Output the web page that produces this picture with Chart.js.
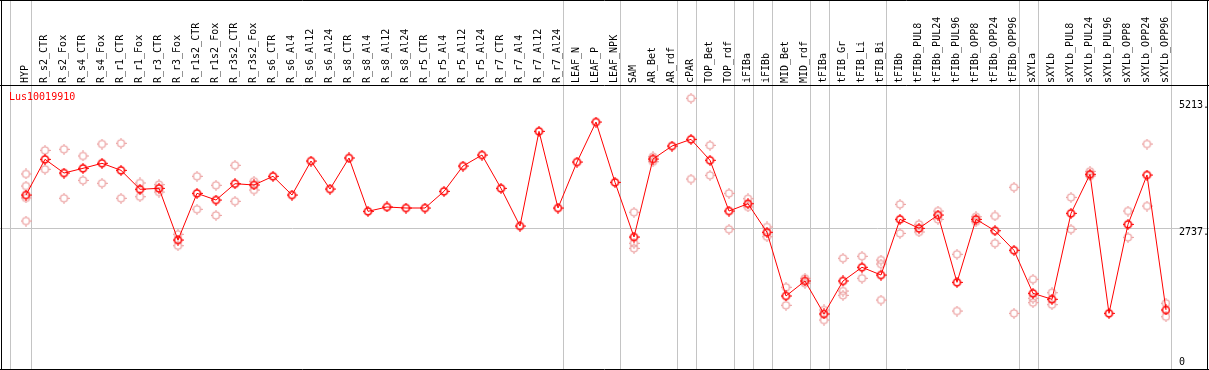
<!DOCTYPE html>
<html><head><meta charset="utf-8">
<script src="https://cdn.jsdelivr.net/npm/chart.js@4"></script>
<style>html,body{margin:0;padding:0;background:#fff;}canvas{display:block;}</style>
</head><body>
<canvas id="c" width="1209" height="370"></canvas>
<script>
const chartTitle = "Lus10019910";
const categories = ["HYP","R_s2_CTR","R_s2_Fox","R_s4_CTR","R_s4_Fox","R_r1_CTR","R_r1_Fox","R_r3_CTR","R_r3_Fox","R_r1s2_CTR","R_r1s2_Fox","R_r3s2_CTR","R_r3s2_Fox","R_s6_CTR","R_s6_Al4","R_s6_Al12","R_s6_Al24","R_s8_CTR","R_s8_Al4","R_s8_Al12","R_s8_Al24","R_r5_CTR","R_r5_Al4","R_r5_Al12","R_r5_Al24","R_r7_CTR","R_r7_Al4","R_r7_Al12","R_r7_Al24","LEAF_N","LEAF_P","LEAF_NPK","SAM","AR_Bet","AR_rdf","cPAR","TOP_Bet","TOP_rdf","iFIBa","iFIBb","MID_Bet","MID_rdf","tFIBa","tFIB_Gr","tFIB_Li","tFIB_Bi","tFIBb","tFIBb_PUL8","tFIBb_PUL24","tFIBb_PUL96","tFIBb_OPP8","tFIBb_OPP24","tFIBb_OPP96","sXYLa","sXYLb","sXYLb_PUL8","sXYLb_PUL24","sXYLb_PUL96","sXYLb_OPP8","sXYLb_OPP24","sXYLb_OPP96"];
const means = [3382,4080,3812,3904,4002,3865,3494,3513,2502,3415,3284,3603,3578,3748,3382,4047,3499,4106,3063,3148,3128,3128,3454,3949,4164,3513,2776,4627,3128,4027,4809,3630,2561,4086,4340,4471,4061,3069,3212,2653,1408,1701,1056,1701,1969,1818,2907,2731,2991,1675,2907,2684,2301,1460,1343,3024,3787,1069,2809,3773,1134];
const replicates = [
  [3793,3558,3324,2874],[4256,3885],[4276,3318],[4145,3669],[4379,3611],[4393,3318],[3617,3349],[3584,3441],[2614,2391],[3748,3103],[3572,2985],[3963,3259],[3650,3480],
  [],[],[],[],[],[],[],[],[],[],[],[],[],[],[],[],[],[],[],
  [3044,2438,2340],[4131,4033],[],[5273,3695],[4354,3767],[3415,2712],[3310,3148],[2757,2567],
  [1578,1226],[1754,1656],[1134,938],[2145,1505,1421],[2184,1754],[2111,2033,1329],
  [3200,2633],[2809,2659],[3069,2907],[2223,1114],[2958,2860],[2972,2438],[3533,1069],
  [1734,1363,1277],[1472,1238],[3337,2712],[3845,3754],[],[3069,2555],[4379,3167],[1265,1003]
];
const yTickValues = [0, 2737, 5213];
const yTickLabels = ["0", "2737.", "5213."];
const separators = [-0.82, 0.24, 28.24, 31.24, 34.24, 35.24, 37.24, 38.24, 39.24, 41.24, 42.24, 45.24, 52.24, 53.24, 60.24];

const FONT = "DejaVu Sans Mono";

function markerImage(color, lw) {
  const c = document.createElement('canvas');
  c.width = 11; c.height = 11;
  const g = c.getContext('2d');
  g.strokeStyle = color; g.lineWidth = lw;
  g.beginPath(); g.arc(5.5, 5.5, 3.5, 0, Math.PI * 2); g.stroke();
  g.lineWidth = 1;
  g.beginPath();
  g.moveTo(5.5, 0); g.lineTo(5.5, 2);
  g.moveTo(5.5, 9); g.lineTo(5.5, 11);
  g.moveTo(0, 5.5); g.lineTo(2, 5.5);
  g.moveTo(9, 5.5); g.lineTo(11, 5.5);
  g.stroke();
  return c;
}
const meanMarker = markerImage('#ff0000', 1.6);
const repMarker = markerImage('#eb9c9c', 1.2);

const meanPoints = means.map((v, i) => ({x: i, y: v}));
const repPoints = [];
replicates.forEach((arr, i) => arr.forEach(v => repPoints.push({x: i, y: v})));

const xMin = -26 / 19, xMax = -26 / 19 + 1170 / 19;

const decor = {
  id: 'decor',
  beforeDatasetsDraw(chart) {
    const {ctx, scales: {x}} = chart;
    ctx.save();
    ctx.strokeStyle = '#c4c4c4'; ctx.lineWidth = 1;
    separators.forEach(v => {
      const px = Math.round(x.getPixelForValue(v)) + 0.5;
      ctx.beginPath(); ctx.moveTo(px, 0); ctx.lineTo(px, chart.height); ctx.stroke();
    });
    ctx.fillStyle = '#ff0000';
    ctx.font = '10px "' + FONT + '"';
    ctx.textBaseline = 'middle'; ctx.textAlign = 'left';
    ctx.fillText(chartTitle, chart.chartArea.left + 9, chart.chartArea.top + 12);
    ctx.restore();
  },
  afterDraw(chart) {
    const {ctx, chartArea} = chart;
    ctx.save();
    ctx.strokeStyle = '#000'; ctx.lineWidth = 1;
    ctx.beginPath();
    ctx.moveTo(0, 0.5); ctx.lineTo(chart.width, 0.5);
    ctx.moveTo(1.5, 0); ctx.lineTo(1.5, chart.height);
    ctx.moveTo(chart.width - 1.5, 0); ctx.lineTo(chart.width - 1.5, chart.height);
    ctx.moveTo(0, chart.height - 0.5); ctx.lineTo(chart.width, chart.height - 0.5);
    ctx.moveTo(0, chartArea.top + 0.5); ctx.lineTo(chart.width, chartArea.top + 0.5);
    ctx.stroke();
    ctx.restore();
  }
};

new Chart(document.getElementById('c'), {
  type: 'line',
  data: {
    datasets: [
      { label: 'replicates', data: repPoints, showLine: false, pointStyle: repMarker, pointRadius: 5, order: 2 },
      { label: 'mean', data: meanPoints, borderColor: '#ff0000', borderWidth: 1, pointStyle: meanMarker, pointRadius: 5, tension: 0, order: 1 }
    ]
  },
  options: {
    responsive: false, animation: false, devicePixelRatio: 1,
    layout: { autoPadding: false, padding: { left: 0, right: 0, top: 0, bottom: 2 } },
    plugins: { legend: { display: false }, tooltip: { enabled: false } },
    scales: {
      x: {
        type: 'linear', position: 'top', min: xMin, max: xMax,
        afterBuildTicks: s => { s.ticks = categories.map((_, i) => ({ value: i })); },
        afterFit: s => { s.height = 85; s.paddingLeft = 0; s.paddingRight = 0; },
        grid: { display: false, drawTicks: false },
        border: { display: false },
        ticks: {
          autoSkip: false, maxRotation: 90, minRotation: 90, padding: 2, labelOffset: 11,
          font: { family: FONT, size: 10 }, color: '#000',
          callback: v => categories[v] !== undefined ? categories[v] : ''
        }
      },
      y: {
        position: 'right', min: 0, max: 5533,
        afterBuildTicks: s => { s.ticks = yTickValues.map(v => ({ value: v })); },
        afterFit: s => { s.width = 39; s.paddingTop = 0; s.paddingBottom = 0; },
        grid: {
          color: ctx => (ctx.tick && ctx.tick.value === yTickValues[1]) ? '#c4c4c4' : 'rgba(0,0,0,0)',
          tickLength: 39, lineWidth: 1
        },
        border: { display: false },
        ticks: {
          padding: -30, color: '#000',
          font: ctx => ({ family: FONT, size: 10, lineHeight: ctx.index === 0 ? 1.2 : 0.8 }),
          callback: (v, i) => i === 0 ? [yTickLabels[i], ''] : ['', yTickLabels[i]]
        }
      }
    }
  },
  plugins: [decor]
});
</script>
</body></html>
